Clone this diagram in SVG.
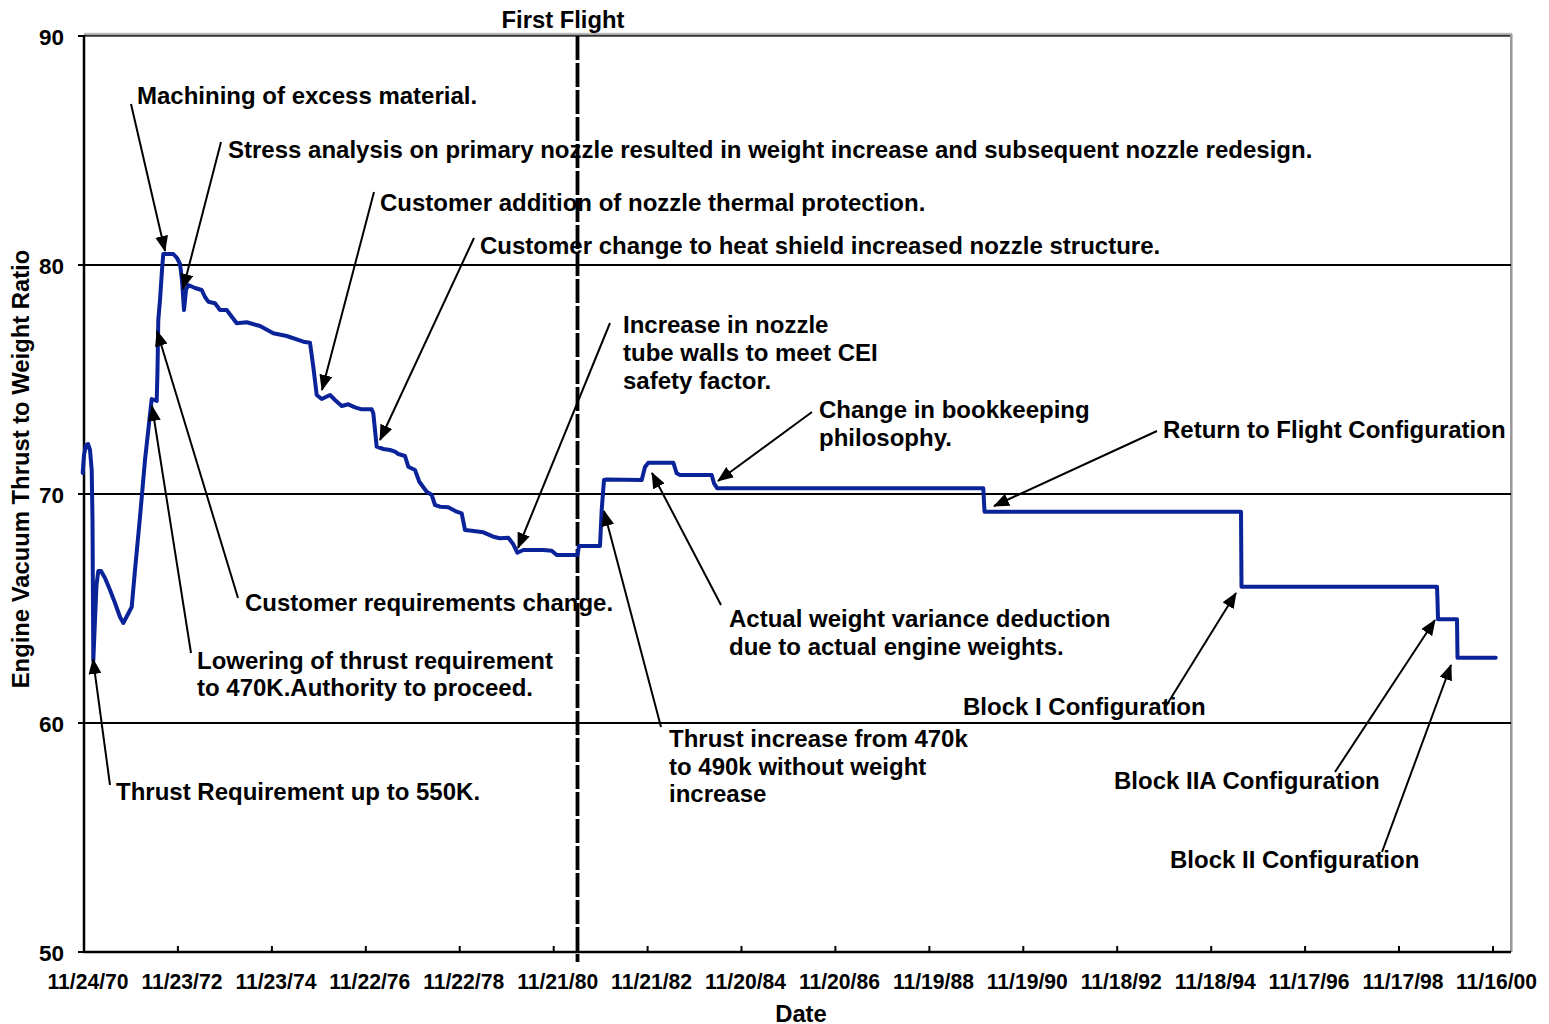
<svg xmlns="http://www.w3.org/2000/svg" width="1549" height="1024" viewBox="0 0 1549 1024">
<style>
text{font-family:"Liberation Sans",Arial,Helvetica,sans-serif;font-weight:bold;fill:#000}
.ann{font-size:24px}
.tick{font-size:22.5px}
.axt{font-size:23.8px}
.grid{stroke:#000;stroke-width:2;fill:none}
.arrow{stroke:#000;stroke-width:2;fill:none;marker-end:url(#ah)}
.curve{stroke:#0B2399;stroke-width:4;fill:none;stroke-linejoin:round;stroke-linecap:round}
</style>
<defs>
<marker id="ah" viewBox="0 0 16 13" refX="15" refY="6.5" markerWidth="16" markerHeight="13" markerUnits="userSpaceOnUse" orient="auto">
<path d="M0,0 L16,6.5 L0,13 Z" fill="#000"/>
</marker>
</defs>
<rect x="0" y="0" width="1549" height="1024" fill="#fff"/>
<g id="plot-frame">
<line x1="84" y1="33.7" x2="1512" y2="33.7" stroke="#bbb" stroke-width="2"/>
<line x1="84" y1="35.8" x2="1511" y2="35.8" stroke="#333" stroke-width="2"/>
<line x1="1511.3" y1="34" x2="1511.3" y2="952" stroke="#999" stroke-width="2.5"/>
<line class="grid" x1="84" y1="265" x2="1511" y2="265"/>
<line class="grid" x1="84" y1="494" x2="1511" y2="494"/>
<line class="grid" x1="84" y1="723" x2="1511" y2="723"/>
<line x1="84" y1="35" x2="84" y2="953" stroke="#000" stroke-width="2.5"/>
<line x1="83" y1="952" x2="1511" y2="952" stroke="#000" stroke-width="2.5"/>
<path d="M78,36H84M78,265H84M78,494H84M78,723H84M78,952H84" stroke="#000" stroke-width="2"/>
<path d="M177.9,952v-6M271.9,952v-6M365.8,952v-6M459.7,952v-6M553.7,952v-6M647.6,952v-6M741.5,952v-6M835.4,952v-6M929.4,952v-6M1023.3,952v-6M1117.2,952v-6M1211.2,952v-6M1305.1,952v-6M1399,952v-6M1493,952v-6" stroke="#000" stroke-width="2"/>
</g>
<g id="axis-labels">
<text class="tick" x="64" y="45" text-anchor="end">90</text>
<text class="tick" x="64" y="274" text-anchor="end">80</text>
<text class="tick" x="64" y="503" text-anchor="end">70</text>
<text class="tick" x="64" y="732" text-anchor="end">60</text>
<text class="tick" x="64" y="961" text-anchor="end">50</text>
<g text-anchor="middle">
<text class="tick" x="88" y="989" textLength="81" lengthAdjust="spacingAndGlyphs">11/24/70</text>
<text class="tick" x="181.9" y="989" textLength="81" lengthAdjust="spacingAndGlyphs">11/23/72</text>
<text class="tick" x="275.9" y="989" textLength="81" lengthAdjust="spacingAndGlyphs">11/23/74</text>
<text class="tick" x="369.8" y="989" textLength="81" lengthAdjust="spacingAndGlyphs">11/22/76</text>
<text class="tick" x="463.7" y="989" textLength="81" lengthAdjust="spacingAndGlyphs">11/22/78</text>
<text class="tick" x="557.7" y="989" textLength="81" lengthAdjust="spacingAndGlyphs">11/21/80</text>
<text class="tick" x="651.6" y="989" textLength="81" lengthAdjust="spacingAndGlyphs">11/21/82</text>
<text class="tick" x="745.5" y="989" textLength="81" lengthAdjust="spacingAndGlyphs">11/20/84</text>
<text class="tick" x="839.4" y="989" textLength="81" lengthAdjust="spacingAndGlyphs">11/20/86</text>
<text class="tick" x="933.4" y="989" textLength="81" lengthAdjust="spacingAndGlyphs">11/19/88</text>
<text class="tick" x="1027.3" y="989" textLength="81" lengthAdjust="spacingAndGlyphs">11/19/90</text>
<text class="tick" x="1121.2" y="989" textLength="81" lengthAdjust="spacingAndGlyphs">11/18/92</text>
<text class="tick" x="1215.2" y="989" textLength="81" lengthAdjust="spacingAndGlyphs">11/18/94</text>
<text class="tick" x="1309.1" y="989" textLength="81" lengthAdjust="spacingAndGlyphs">11/17/96</text>
<text class="tick" x="1403" y="989" textLength="81" lengthAdjust="spacingAndGlyphs">11/17/98</text>
<text class="tick" x="1496.5" y="989" textLength="81" lengthAdjust="spacingAndGlyphs">11/16/00</text>
</g>
<text class="axt" x="801" y="1022" text-anchor="middle">Date</text>
<text class="axt" transform="translate(29,469) rotate(-90)" text-anchor="middle">Engine Vacuum Thrust to Weight Ratio</text>
</g>
<g id="first-flight">
<line x1="577.5" y1="36" x2="577.5" y2="962" stroke="#000" stroke-width="3.8" stroke-dasharray="24 3"/>
<text class="axt" x="563" y="28" text-anchor="middle">First Flight</text>
</g>
<g id="data-series">
<polyline class="curve" points="82.7,473 84,455 86,445 88,444 90,450 91.7,470 92.5,520 93.3,661 95,620 96.5,585 98.3,571 101,571 105,578 110,590 115,603 120,617 123.3,623 127,616 131.7,607 135,570 140,517 145,460 151.7,399 156.7,401 157.5,370 158.3,320 160,300 162,270 163.3,254 173.3,254 177,258 180,264 182,280 184,310 186,290 188.3,285 195,288 201.7,290 205,297 208.3,301.7 215,303.3 220,310 226.7,310 236.7,323.3 246.7,322.3 260,326 273.3,333.3 286.7,336 303.3,341.7 310,342.7 313.3,366.7 316.7,395 321.7,399 330,395 335,400 341.7,406 348.3,404.3 355,407.3 361.7,409.3 371.7,409.3 373.3,413.3 376.7,446.7 383.3,449 390,450 395,451.7 398.3,454 405,456 408.3,466.7 415,470 419.3,481.7 426.7,491.7 431.7,495 435,505 440,506.7 448.3,507.3 456.7,511.7 461.7,513.3 465,530 471.7,530.7 483.3,532.3 493.3,536.7 500,538.3 508.3,537.7 513.3,544.3 517.3,552.7 523.3,550 543.3,550 551.7,550.7 556.7,555 577.5,555 579,546 600,546 601.7,510 604,480 606.7,479.5 641.7,480 645,467 648.3,462.7 673.3,462.7 676.7,473.3 680,475 711.7,475 714,483.3 717.3,488.3 983.3,488.3 984.5,511.7 1241,511.7 1241.5,586.7 1437,586.7 1437.5,600 1438,619.3 1457,619.3 1457.5,657.7 1495.7,657.7"/>
</g>
<g id="connectors">
<line class="arrow" x1="131" y1="104" x2="165" y2="251"/>
<line class="arrow" x1="221" y1="142" x2="183" y2="289"/>
<line class="arrow" x1="374" y1="192" x2="322" y2="390"/>
<line class="arrow" x1="474" y1="238" x2="380" y2="440"/>
<line class="arrow" x1="610" y1="323" x2="518" y2="548"/>
<line class="arrow" x1="812" y1="412" x2="718" y2="481"/>
<line class="arrow" x1="1157" y1="431" x2="994" y2="506"/>
<line class="arrow" x1="238" y1="598" x2="157" y2="331"/>
<line class="arrow" x1="191" y1="653" x2="152" y2="406"/>
<line class="arrow" x1="110" y1="785" x2="93" y2="659"/>
<line class="arrow" x1="661" y1="727" x2="604" y2="511"/>
<line class="arrow" x1="721" y1="605" x2="652" y2="473"/>
<line class="arrow" x1="1166" y1="706" x2="1236" y2="593"/>
<line class="arrow" x1="1335" y1="772" x2="1435" y2="620"/>
<line class="arrow" x1="1382" y1="852" x2="1451" y2="665"/>
</g>
<g id="note-machining"><text class="ann" x="137" y="104">Machining of excess material.</text></g>
<g id="note-stress"><text class="ann" x="228" y="158">Stress analysis on primary nozzle resulted in weight increase and subsequent nozzle redesign.</text></g>
<g id="note-thermal"><text class="ann" x="380" y="211">Customer addition of nozzle thermal protection.</text></g>
<g id="note-heatshield"><text class="ann" x="480" y="254">Customer change to heat shield increased nozzle structure.</text></g>
<g id="note-tubewalls"><text class="ann" x="623" y="333">Increase in nozzle</text><text class="ann" x="623" y="361">tube walls to meet CEI</text><text class="ann" x="623" y="389">safety factor.</text></g>
<g id="note-bookkeeping"><text class="ann" x="819" y="418">Change in bookkeeping</text><text class="ann" x="819" y="446">philosophy.</text></g>
<g id="note-return"><text class="ann" x="1163" y="438">Return to Flight Configuration</text></g>
<g id="note-requirements"><text class="ann" x="245" y="611">Customer requirements change.</text></g>
<g id="note-lowering"><text class="ann" x="197" y="669">Lowering of thrust requirement</text><text class="ann" x="197" y="696">to 470K.Authority to proceed.</text></g>
<g id="note-550k"><text class="ann" x="116" y="800">Thrust Requirement up to 550K.</text></g>
<g id="note-490k"><text class="ann" x="669" y="747">Thrust increase from 470k</text><text class="ann" x="669" y="775">to 490k without weight</text><text class="ann" x="669" y="802">increase</text></g>
<g id="note-variance"><text class="ann" x="729" y="627">Actual weight variance deduction</text><text class="ann" x="729" y="655">due to actual engine weights.</text></g>
<g id="note-block1"><text class="ann" x="963" y="715">Block I Configuration</text></g>
<g id="note-block2a"><text class="ann" x="1114" y="789">Block IIA Configuration</text></g>
<g id="note-block2"><text class="ann" x="1170" y="868">Block II Configuration</text></g>
</svg>
